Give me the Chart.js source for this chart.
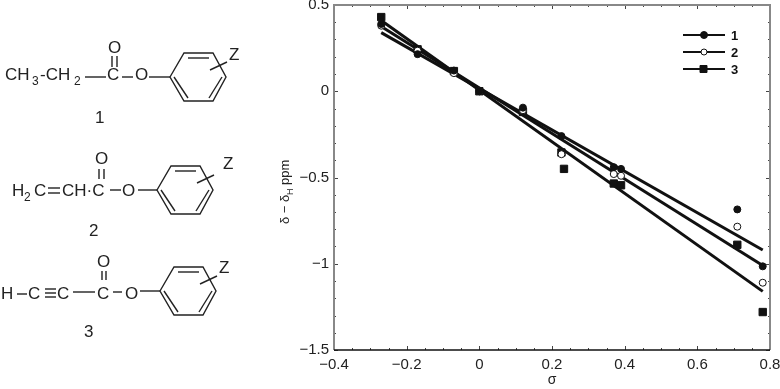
<!DOCTYPE html>
<html>
<head>
<meta charset="utf-8">
<style>
  html, body { margin: 0; padding: 0; background: #fff; }
  #wrap { position: relative; width: 780px; height: 389px; overflow: hidden; }
  #chart { position: absolute; left: 0; top: 0; }
  #art { position: absolute; left: 0; top: 0; }
  #art text { font-family: "Liberation Sans", Arial, sans-serif; font-size: 17px; fill: #222; }
  #art .sub { font-size: 12px; }
  #art line, #art path { stroke: #222; stroke-width: 1.4; fill: none; }
</style>
</head>
<body>
<div id="wrap">
  <canvas id="chart" width="780" height="389"></canvas>
  <svg id="art" width="780" height="389">
    <defs>
      <g id="ring">
        <path d="M170 77 L184 53 L213 53 L226 77 L213 101 L184 101 Z"/>
        <line x1="188" y1="58" x2="209" y2="58"/>
        <line x1="222" y1="77" x2="209" y2="98"/>
        <line x1="174" y1="77" x2="188" y2="98"/>
        <line x1="210" y1="70" x2="227" y2="62"/>
      </g>
    </defs>

    <!-- 1 -->
    <text x="5" y="80">CH</text><text class="sub" x="32" y="85">3</text><text x="40" y="80">-CH</text><text class="sub" x="74" y="85">2</text>
    <line x1="85" y1="77" x2="106" y2="77"/>
    <text x="107" y="80">C</text>
    <line x1="112" y1="56" x2="112" y2="67"/><line x1="117" y1="56" x2="117" y2="67"/>
    <text x="108" y="53">O</text>
    <line x1="122" y1="77" x2="133" y2="77"/>
    <text x="135" y="80">O</text>
    <line x1="149" y1="77" x2="170" y2="77"/>
    <use href="#ring"/>
    <text x="229" y="60">Z</text>
    <text x="95" y="123">1</text>

    <!-- 2 -->
    <text x="12" y="196">H</text><text class="sub" x="24" y="201">2</text><text x="34" y="196">C</text>
    <line x1="48" y1="188" x2="60" y2="188"/><line x1="48" y1="193" x2="60" y2="193"/>
    <text x="62" y="196">CH·C</text>
    <line x1="99" y1="169" x2="99" y2="179"/><line x1="104" y1="169" x2="104" y2="179"/>
    <text x="95" y="164">O</text>
    <line x1="110" y1="190" x2="121" y2="190"/>
    <text x="122" y="196">O</text>
    <line x1="138" y1="190" x2="157" y2="190"/>
    <use href="#ring" transform="translate(-13 113)"/>
    <text x="223" y="169">Z</text>
    <text x="89" y="236">2</text>

    <!-- 3 -->
    <text x="1" y="299">H</text>
    <line x1="17" y1="294" x2="27" y2="294"/>
    <text x="28" y="299">C</text>
    <line x1="45" y1="289" x2="56" y2="289"/><line x1="45" y1="293" x2="56" y2="293"/><line x1="45" y1="297" x2="56" y2="297"/>
    <text x="57" y="299">C</text>
    <line x1="73" y1="292" x2="95" y2="292"/>
    <text x="97" y="299">C</text>
    <line x1="102" y1="271" x2="102" y2="280"/><line x1="106" y1="271" x2="106" y2="280"/>
    <text x="97" y="267">O</text>
    <line x1="113" y1="292" x2="122" y2="292"/>
    <text x="125" y="299">O</text>
    <line x1="140" y1="291" x2="160" y2="291"/>
    <use href="#ring" transform="translate(-10 214)"/>
    <text x="219" y="273">Z</text>
    <text x="84" y="337">3</text>

    <!-- y axis title, needs a subscript -->
    <g transform="translate(289 224) rotate(-90)">
      <text style="font-size:13px" x="0" y="0">δ − δ</text>
      <text style="font-size:9px" x="29" y="4">H</text>
      <text style="font-size:13px" x="39" y="0">ppm</text>
    </g>
  </svg>
</div>

<script src="https://cdn.jsdelivr.net/npm/chart.js@4"></script>
<script>
const sigma = [-0.27, -0.17, -0.07, 0, 0.12, 0.226, 0.37, 0.39, 0.71, 0.78];
const sigma3 = [-0.27, -0.17, -0.07, 0, 0.12, 0.226, 0.233, 0.37, 0.39, 0.71, 0.78];

const series1 = [0.39, 0.215, 0.12, 0, -0.095, -0.26, -0.44, -0.45, -0.685, -1.015];
const series2 = [0.38, 0.235, 0.105, 0, -0.11, -0.365, -0.48, -0.49, -0.785, -1.11];
const series3 = [0.43, 0.243, 0.117, 0, -0.12, -0.355, -0.45, -0.535, -0.545, -0.89, -1.28];

// fitted lines, end points
const fitX = [-0.27, 0.78];
const fit1 = [0.34, -0.92];
const fit2 = [0.375, -1.01];
const fit3 = [0.41, -1.16];

const legendLabels = ['1', '2', '3'];
const ink = '#111';

function toPoints(xs, ys) {
  return xs.map((x, i) => ({ x: x, y: ys[i] }));
}

function lineSet(ys) {
  return {
    type: 'line',
    data: toPoints(fitX, ys),
    borderColor: ink,
    borderWidth: 3,
    pointRadius: 0,
    fill: false
  };
}

function pointSet(xs, ys, style, fill, size) {
  return {
    type: 'scatter',
    data: toPoints(xs, ys),
    pointStyle: style,
    pointRadius: size,
    pointBackgroundColor: fill,
    pointBorderColor: ink,
    pointBorderWidth: 1,
    showLine: false
  };
}

// ticks point inwards on all four sides, frame is grey except the bottom
const frameTicks = {
  id: 'frameTicks',
  afterDatasetsDraw(chart) {
    const { ctx, chartArea: a, scales } = chart;
    ctx.save();
    ctx.strokeStyle = '#444';
    ctx.lineWidth = 1;
    scales.x.ticks.forEach(t => {
      const px = Math.round(scales.x.getPixelForValue(t.value)) + 0.5;
      const len = Math.round(t.value * 100) % 20 === 0 ? 4 : 2;
      ctx.beginPath();
      ctx.moveTo(px, a.top); ctx.lineTo(px, a.top + len);
      ctx.moveTo(px, a.bottom); ctx.lineTo(px, a.bottom - len);
      ctx.stroke();
    });
    scales.y.ticks.forEach(t => {
      const py = Math.round(scales.y.getPixelForValue(t.value)) + 0.5;
      const len = Math.round(t.value * 100) % 50 === 0 ? 4 : 2;
      ctx.beginPath();
      ctx.moveTo(a.left, py); ctx.lineTo(a.left + len, py);
      ctx.moveTo(a.right, py); ctx.lineTo(a.right - len, py);
      ctx.stroke();
    });
    ctx.strokeStyle = '#888';
    ctx.lineWidth = 2;
    ctx.beginPath();
    ctx.moveTo(a.left, a.bottom); ctx.lineTo(a.left, a.top);
    ctx.lineTo(a.right, a.top); ctx.lineTo(a.right, a.bottom);
    ctx.stroke();
    ctx.strokeStyle = ink;
    ctx.lineWidth = 1.5;
    ctx.beginPath();
    ctx.moveTo(a.left, a.bottom); ctx.lineTo(a.right, a.bottom);
    ctx.stroke();
    ctx.restore();
  }
};

// legend sits inside the plot, with the marker on the line
const insideLegend = {
  id: 'insideLegend',
  afterDatasetsDraw(chart) {
    const ctx = chart.ctx;
    ctx.save();
    legendLabels.forEach((label, i) => {
      const y = 35 + i * 17;
      ctx.strokeStyle = ink;
      ctx.lineWidth = 2;
      ctx.beginPath();
      ctx.moveTo(683, y); ctx.lineTo(725, y);
      ctx.stroke();
      ctx.lineWidth = 1;
      ctx.fillStyle = i === 1 ? '#fff' : ink;
      ctx.beginPath();
      if (i === 2) ctx.rect(700, y - 3.5, 7, 7);
      else ctx.arc(704, y, i === 0 ? 3.5 : 3, 0, Math.PI * 2);
      ctx.fill();
      ctx.stroke();
      ctx.fillStyle = ink;
      ctx.font = 'bold 13px "Liberation Sans", Arial, sans-serif';
      ctx.textBaseline = 'middle';
      ctx.fillText(label, 731, y + 1);
    });
    ctx.restore();
  }
};

new Chart(document.getElementById('chart').getContext('2d'), {
  data: {
    datasets: [
      pointSet(sigma, series1, 'circle', ink, 3.5),
      pointSet(sigma, series2, 'circle', '#fff', 3.5),
      pointSet(sigma3, series3, 'rect', ink, 5.2),
      lineSet(fit1),
      lineSet(fit2),
      lineSet(fit3)
    ]
  },
  options: {
    responsive: false,
    animation: false,
    layout: { autoPadding: false, padding: { left: 0, top: 5, right: 10, bottom: 0 } },
    plugins: { legend: { display: false }, tooltip: { enabled: false } },
    scales: {
      x: {
        type: 'linear',
        min: -0.4,
        max: 0.8,
        afterFit(scale) {
          scale.height = 39;
          scale.paddingLeft = 0;
          scale.paddingRight = 0;
        },
        grid: { display: false, drawTicks: false },
        border: { display: false },
        title: {
          display: true,
          text: 'σ',
          color: '#222',
          font: { family: '"Liberation Sans", Arial, sans-serif', size: 14 },
          padding: { top: 1, bottom: 0 }
        },
        ticks: {
          stepSize: 0.05,
          autoSkip: false,
          maxRotation: 0,
          minRotation: 0,
          padding: 6,
          color: '#222',
          font: { family: '"Liberation Sans", Arial, sans-serif', size: 15 },
          callback(v) {
            const n = Math.round(v * 100);
            if (n % 20 !== 0) return '';
            if (n === 0) return '0';
            return (n < 0 ? '−' : '') + (Math.abs(n) / 100).toFixed(1);
          }
        }
      },
      y: {
        type: 'linear',
        min: -1.5,
        max: 0.5,
        afterFit(scale) {
          scale.width = 334;
          scale.paddingTop = 0;
          scale.paddingBottom = 0;
        },
        grid: { display: false, drawTicks: false },
        border: { display: false },
        ticks: {
          stepSize: 0.1,
          autoSkip: false,
          padding: 5,
          color: '#222',
          font: { family: '"Liberation Sans", Arial, sans-serif', size: 15 },
          callback(v) {
            const n = Math.round(v * 100);
            if (n % 50 !== 0) return '';
            if (n === 0) return '0';
            if (n % 100 === 0) return (n < 0 ? '−' : '') + Math.abs(n) / 100;
            return (n < 0 ? '−' : '') + (Math.abs(n) / 100).toFixed(1);
          }
        }
      }
    }
  },
  plugins: [frameTicks, insideLegend]
});
</script>
</body>
</html>
